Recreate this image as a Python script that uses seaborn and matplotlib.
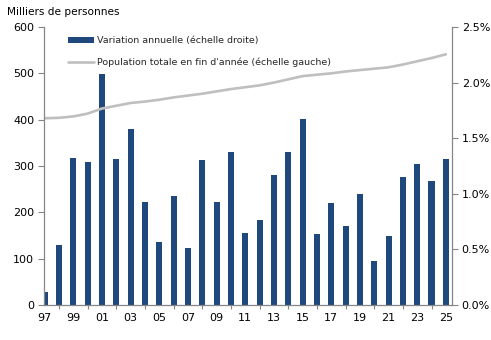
import matplotlib
matplotlib.use("Agg")
import matplotlib.pyplot as plt
from matplotlib.ticker import FixedLocator, FuncFormatter
import seaborn as sns
import pandas as pd

years = list(range(1997, 2026))
variation_pct = [0.12, 0.54, 1.325, 1.29, 2.08, 1.317, 1.587, 0.929, 0.568, 0.983,
                 0.514, 1.308, 0.929, 1.38, 0.65, 0.767, 1.17, 1.38, 1.67, 0.64,
                 0.92, 0.713, 1.0, 0.397, 0.62, 1.154, 1.27, 1.118, 1.317]
population_k = [403, 404, 407, 413, 424, 430, 436, 439, 443, 448,
                452, 456, 461, 466, 470, 474, 480, 487, 494, 497,
                500, 504, 507, 510, 513, 519, 526, 533, 541]
label_bar = "Variation annuelle (échelle droite)"
label_line = "Population totale en fin d'année (échelle gauche)"
y_title = "Milliers de personnes"

df = pd.DataFrame({"annee": years, "variation": variation_pct, "population": population_k})

sns.set_theme(style="white")
plt.rcParams["font.family"] = ["DejaVu Sans"]

BLUE = "#1F497D"
GREY_LINE = "#BFBFBF"
AXIS = "#868686"

fig = plt.figure(figsize=(4.91, 3.40), dpi=100)
ax = fig.add_axes([44 / 491, 1 - 305 / 340, (452 - 44) / 491, (305 - 27) / 340])
ax2 = ax.twinx()

# bars on the right (percent) axis
sns.barplot(data=df, x="annee", y="variation", ax=ax2, native_scale=True,
            color=BLUE, saturation=1, width=0.42, edgecolor="none", linewidth=0)
# population line on the left axis
sns.lineplot(data=df, x="annee", y="population", ax=ax, color=GREY_LINE,
             linewidth=1.9)

ax.set_zorder(ax2.get_zorder() + 1)
ax.patch.set_visible(False)

xmin, xmax = 1996.96, 2025.43
for a in (ax, ax2):
    a.set_xlim(xmin, xmax)
    a.set_xlabel("")
    a.set_ylabel("")

ax.set_ylim(0, 600)
ax.set_yticks(range(0, 601, 100))
ax2.set_ylim(0, 2.5)
ax2.set_yticks([0, 0.5, 1.0, 1.5, 2.0, 2.5])
ax2.yaxis.set_major_formatter(FuncFormatter(lambda v, p: f"{v:.1f}%"))

odd_years = [y for y in years if y % 2 == 1]
even_years = [y for y in years if y % 2 == 0]
for a in (ax, ax2):
    a.xaxis.set_major_locator(FixedLocator(odd_years))
    a.xaxis.set_minor_locator(FixedLocator(even_years))
ax.set_xticklabels([f"{y % 100:02d}" for y in odd_years])
ax2.tick_params(axis="x", which="both", bottom=False, labelbottom=False)

ax.tick_params(axis="x", which="major", length=0, pad=6, labelsize=8, colors="black")
ax.tick_params(axis="x", which="minor", length=3, width=0.8, color=AXIS, direction="out", bottom=True)
ax.tick_params(axis="y", which="major", length=4, width=0.8, color=AXIS, direction="out",
               labelsize=8, labelcolor="black", left=True, pad=3)
ax2.tick_params(axis="y", which="major", length=4, width=0.8, color=AXIS, direction="out",
                labelsize=8, labelcolor="black", right=True, pad=3)

for a in (ax, ax2):
    a.spines["top"].set_visible(False)
    for s in ("left", "right", "bottom"):
        a.spines[s].set_color(AXIS)
        a.spines[s].set_linewidth(0.9)
ax.spines["right"].set_visible(False)
ax2.spines["left"].set_visible(False)
ax2.spines["bottom"].set_visible(False)

bar_handle = ax2.patches[0]
line_handle = ax.lines[0]
leg = ax.legend([bar_handle, line_handle], [label_bar, label_line],
                loc="upper left", bbox_to_anchor=(68 / 491, 1 - 36 / 340),
                bbox_transform=fig.transFigure, frameon=False, fontsize=6.8,
                handlelength=2.7, handleheight=0.62, handletextpad=0.38,
                labelspacing=1.33, borderpad=0, borderaxespad=0)

fig.text(7 / 491, 1 - 12 / 340, y_title, fontsize=7.6, va="center", ha="left", color="black")

fig.savefig("out.png", dpi=100, facecolor="white")
